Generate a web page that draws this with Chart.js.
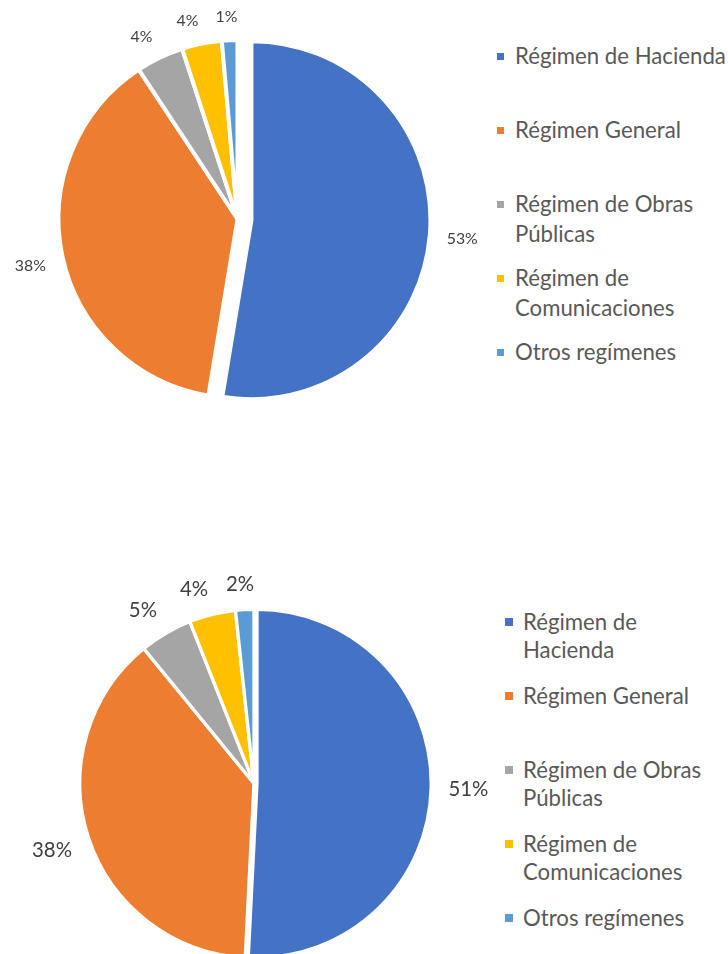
<!DOCTYPE html>
<html><head><meta charset="utf-8">
<script src="https://cdn.jsdelivr.net/npm/chart.js@4.4.0/dist/chart.umd.min.js"></script>
<style>
html,body{margin:0;padding:0;background:#fff;overflow:hidden;width:728px;height:954px;}
#wrap{position:relative;width:728px;height:954px;overflow:hidden;}
canvas{position:absolute;}
.leg{position:absolute;font-family:Lato,sans-serif;color:#595959;white-space:nowrap;}
.sw{position:absolute;}
</style></head><body><div id="wrap">
<canvas id="c1" width="490" height="440" style="left:0;top:0;width:490px;height:440px"></canvas>
<canvas id="c2" width="500" height="420" style="left:0;top:560px;width:500px;height:420px"></canvas>
</div>
<script>
const categories = ["Régimen de Hacienda","Régimen General","Régimen de Obras Públicas","Régimen de Comunicaciones","Otros regímenes"];
const valuesTop = [52.6, 38.1, 4.3, 3.6, 1.4];
const valuesBottom = [50.8, 38.3, 4.9, 4.3, 1.7];
const legendLinesTop = [["Régimen de Hacienda"],["Régimen General"],["Régimen de Obras","Públicas"],["Régimen de","Comunicaciones"],["Otros regímenes"]];
const legendLinesBottom = [["Régimen de","Hacienda"],["Régimen General"],["Régimen de Obras","Públicas"],["Régimen de","Comunicaciones"],["Otros regímenes"]];
const colors = ["#4472C4","#ED7D31","#A5A5A5","#FFC000","#5B9BD5"];

function fitSize(text, targetW){
  const c=document.createElement('canvas').getContext('2d');
  c.font='100px Lato';
  return 100*targetW/c.measureText(text).width;
}

// pulls selected slices outward (Excel-style point explosion) without enlarging them
const explodeSlices = {
  id:'explodeSlices',
  beforeDatasetsDraw(chart, args, opts){
    const meta=chart.getDatasetMeta(0);
    meta.data.forEach((arc,i)=>{
      const e=(opts.amounts||[])[i]||0;
      if(!e || arc._exploded) return;
      const orig=arc.draw;
      arc.draw=function(ctx,area){
        const mid=(this.startAngle+this.endAngle)/2;
        ctx.save(); ctx.translate(Math.cos(mid)*e, Math.sin(mid)*e);
        orig.call(this,ctx,area);
        ctx.restore();
      };
      arc._exploded=true;
    });
  }
};

const pctLabels = {
  id:'pctLabels',
  afterDatasetsDraw(chart, args, opts){
    const ctx=chart.ctx; const meta=chart.getDatasetMeta(0); const data=chart.data.datasets[0].data;
    const total=data.reduce((a,b)=>a+b,0);
    const ex=(chart.options.plugins.explodeSlices||{}).amounts||[];
    const clamp=v=>Math.max(-1,Math.min(1,v));
    ctx.save(); ctx.font=opts.size+'px Lato'; ctx.fillStyle='#404040'; ctx.textAlign='center'; ctx.textBaseline='middle';
    meta.data.forEach((arc,i)=>{
      const p=arc.getProps(['x','y','startAngle','endAngle','outerRadius'],true);
      const mid=(p.startAngle+p.endAngle)/2; const ux=Math.cos(mid), uy=Math.sin(mid);
      const e=ex[i]||0;
      const d=p.outerRadius-opts.bw/2+opts.gap;
      const txt=Math.round(data[i]/total*100)+'%';
      const w=ctx.measureText(txt).width, h=opts.size*0.75;
      const x=p.x+ux*(d+e)+clamp(ux*5)*w/2, y=p.y+uy*(d+e)+clamp(uy*5)*h/2;
      ctx.fillText(txt, x, y);
    });
    ctx.restore();
  }
};

function makeChart(id, values, o){
  return new Chart(document.getElementById(id), {
    type:'pie',
    data:{labels:categories, datasets:[{data:values, backgroundColor:colors, borderColor:'#ffffff', borderWidth:o.bw}]},
    options:{responsive:false, animation:false, radius:o.radius, layout:{padding:o.padding},
      plugins:{legend:{display:false}, tooltip:{enabled:false},
        explodeSlices:{amounts:o.explode},
        pctLabels:{size:o.labelSize, gap:o.gap, bw:o.bw}}},
    plugins:[explodeSlices, pctLabels]
  });
}

const legSize = fitSize("Régimen General", 166);
function buildLegend(lines, o){
  const wrap=document.getElementById('wrap');
  lines.forEach((ls,i)=>{
    const cy=o.y0+o.step*i;
    const sw=document.createElement('div'); sw.className='sw';
    sw.style.cssText=`left:${o.sx}px;top:${cy-o.sq/2}px;width:${o.sq}px;height:${o.sq}px;background:${colors[i]}`;
    wrap.appendChild(sw);
    const t=document.createElement('div'); t.className='leg';
    t.style.cssText=`left:${o.tx}px;top:${cy-o.lh/2}px;line-height:${o.lh}px;font-size:${legSize}px`;
    t.innerHTML=ls.join('<br>');
    wrap.appendChild(t);
  });
}

const ch1 = makeChart('c1', valuesTop, {bw:4, explode:[14,0,0,0,0], radius:179, padding:{left:37.5,right:52.5,top:19,bottom:21}, labelSize:fitSize("38%",31), gap:19});
const ch2 = makeChart('c2', valuesBottom, {bw:3.3, explode:[3,0,0,0,0], radius:174.2, padding:{left:64,right:56,top:33.5,bottom:6.5}, labelSize:fitSize("38%",40), gap:19});
ch1.draw(); ch2.draw();
buildLegend(legendLinesTop, {y0:56, step:74, sx:497, sq:7, tx:515, lh:30});
buildLegend(legendLinesBottom, {y0:622, step:74, sx:505, sq:8, tx:523, lh:28.5});
</script></body></html>
